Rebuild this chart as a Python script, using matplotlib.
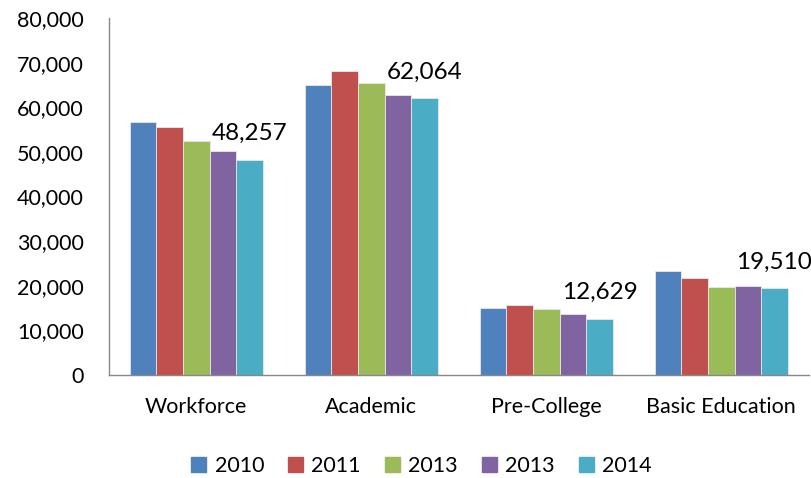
import matplotlib.pyplot as plt
import numpy as np

# Data
categories = ['Workforce', 'Academic', 'Pre-College', 'Basic Education']
series_labels = ['2010', '2011', '2013', '2013', '2014']
values_2010 = [56800, 65000, 15100, 23300]
values_2011 = [55700, 68200, 15700, 21700]
values_2013a = [52400, 65500, 14800, 19700]
values_2013b = [50300, 62700, 13700, 19900]
values_2014 = [48257, 62064, 12629, 19510]
series = [values_2010, values_2011, values_2013a, values_2013b, values_2014]

colors = ['#4F81BD', '#C0504D', '#9BBB59', '#8064A2', '#4BACC6']
yticks = [0, 10000, 20000, 30000, 40000, 50000, 60000, 70000, 80000]

plt.rcParams['font.family'] = ['Lato', 'DejaVu Sans']

fig = plt.figure(figsize=(8.12, 4.78), dpi=100)
ax = fig.add_axes([0.134, 0.2155, 0.862, 0.7465])

x = np.arange(len(categories))
width = 0.152
offsets = (np.arange(len(series)) - 2) * width

bars = []
for vals, off, col, lab in zip(series, offsets, colors, series_labels):
    b = ax.bar(x + off, vals, width, color=col, label=lab,
               edgecolor='#e8e8e8', linewidth=0.6)
    bars.append(b)

# value labels above last series
for rect, v in zip(bars[-1], values_2014):
    ax.annotate(f'{v:,}', (rect.get_x() + rect.get_width() / 2, v),
                xytext=(0, 14), textcoords='offset points',
                ha='center', va='baseline', fontsize=17.5, color='black')

ax.set_xlim(-0.5, len(categories) - 0.5)
ax.set_ylim(0, 80000)
ax.set_yticks(yticks)
ax.set_yticklabels([f'{t:,}' for t in yticks])
ax.set_xticks(x)
ax.set_xticklabels(categories)
ax.tick_params(axis='y', length=0, pad=18, labelsize=15.5)
ax.tick_params(axis='x', length=0, pad=16, labelsize=15.5)

for s in ['top', 'right']:
    ax.spines[s].set_visible(False)
for s in ['left', 'bottom']:
    ax.spines[s].set_color('#888888')
    ax.spines[s].set_linewidth(1)

handles = [plt.Rectangle((0, 0), 1, 1, color=c) for c in colors]
fig.legend(handles, series_labels, loc='center', bbox_to_anchor=(0.519, 1 - 466 / 478),
           ncol=5, frameon=False, fontsize=15.5, handlelength=0.7, handleheight=0.7,
           handletextpad=0.4, columnspacing=1.1)

fig.savefig('out.png', dpi=100, facecolor='white')
